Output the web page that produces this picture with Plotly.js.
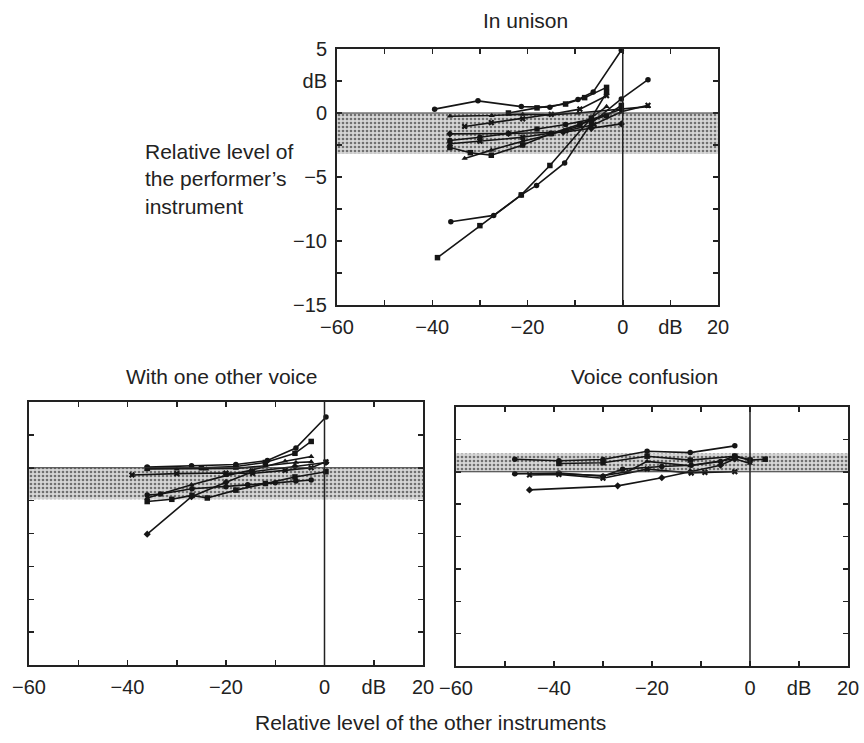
<!DOCTYPE html>
<html>
<head>
<meta charset="utf-8">
<script src="https://cdn.plot.ly/plotly-3.0.1.min.js"></script>
<style>html,body{margin:0;padding:0;background:#fff;}#chart{width:864px;height:743px;}</style>
</head>
<body>
<div id="chart"></div>
<script>
// ---------- data ----------
const panelTitles = ["In unison", "With one other voice", "Voice confusion"];
const xAxisTitle = "Relative level of the other instruments";
const yAxisTitleLines = ["Relative level of", "the performer\u2019s", "instrument"];

const xTickVals = [-60, -50, -40, -30, -20, -10, 0, 10, 20];
const xTickText = ["\u221260", "", "\u221240", "", "\u221220", "", "0", "dB", "20"];
const yTickVals = [-15, -12.5, -10, -7.5, -5, -2.5, 0, 2.5, 5];
const yTickTextTop = ["\u221215", "", "\u221210", "", "\u22125", "", "0", "dB", "5"];
const yTickTextBlank = ["", "", "", "", "", "", "", "", ""];

// shaded reference bands [low, high] in dB
const bandUnison = [-3.2, 0];
const bandOneVoice = [-2.4, 0];
const bandConfusion = [0, 1.4];

// In unison
const unisonX = [
  [-39.5, -30.4, -21.3, -15.3, -9.4, -6.2, -0.3],
  [-24, -18, -12, -8, -3.4],
  [-36.3, -27.5, -21, -15.3, -9.4, -0.3, 5.3],
  [-33.2, -27.6, -21, -15, -9, -3.4],
  [-36.3, -24, -12.5, -6.6, -0.3],
  [-36.3, -30, -24, -18, -12, -6.6, -0.3],
  [-36.3, -32, -27.6, -21, -15, -9, -3.4, -0.3],
  [-33.2, -27.6, -21, -15.3, -9, -3.4],
  [-36.1, -27.1, -21.3, -18.1, -12.2, -6.6, -0.3, 5.3],
  [-38.9, -30, -21.3, -15.3, -6.6, -3.4],
  [-36.3, -30, -21, -12, -6, -0.3, 5.3]
];
const unisonY = [
  [0.3, 0.95, 0.5, 0.45, 1.05, 1.65, 4.9],
  [0.0, 0.4, 0.7, 1.2, 2.0],
  [-0.25, -0.2, -0.1, -0.15, 0.0, 0.3, 0.5],
  [-1.05, -0.75, -0.45, -0.1, 0.3, 1.35],
  [-1.63, -1.6, -1.5, -1.2, -0.85],
  [-2.15, -1.9, -1.6, -1.25, -0.9, -0.5, 0.3],
  [-2.7, -3.1, -3.3, -2.5, -1.6, -0.9, -0.2, 0.6],
  [-3.55, -2.9, -2.2, -1.7, -1.0, 0.5],
  [-8.5, -8.0, -6.4, -5.66, -3.9, -0.8, 1.1, 2.6],
  [-11.3, -8.8, -6.4, -4.1, -0.4, 1.6],
  [-2.4, -2.2, -1.9, -1.4, -0.9, 0.1, 0.6]
];

// With one other voice
const oneVoiceX = [
  [-36, -27, -18, -11.6, -5.8, 0.3],
  [-36, -25, -18, -12, -6, -2.7],
  [-36, -30, -24, -18, -12, -5.8, -2.7],
  [-39.1, -30, -20, -14.6, -8, -2.7, 0.3],
  [-36, -27, -20, -14.6, -6, 0.3],
  [-36, -33.3, -26.9, -20, -15.6, -10, -5.8, -2.7],
  [-36, -31, -26.9, -23.8, -18, -12, -6, 0.3],
  [-36, -27, -20, -15, -8, -2.7]
];
const oneVoiceY = [
  [0.05, 0.15, 0.25, 0.55, 1.5, 3.86],
  [-0.05, 0.0, 0.1, 0.4, 1.1, 2.0],
  [-0.1, -0.1, -0.1, -0.05, 0.15, 0.4, 0.45],
  [-0.55, -0.45, -0.4, -0.43, -0.2, 0.0, 0.45],
  [-5.05, -2.2, -1.1, -0.3, 0.1, 0.4],
  [-2.07, -2.0, -1.6, -1.45, -1.3, -1.15, -1.0, -0.93],
  [-2.57, -2.4, -2.1, -2.3, -1.7, -1.2, -0.7, -0.3],
  [-2.3, -1.3, -0.6, -0.2, 0.5, 0.85]
];

// Voice confusion
const confusionX = [
  [-48, -39, -30, -21, -12.2, -3.1],
  [-39, -30, -21, -12.2, -3.1, 0, 3.1],
  [-48, -39, -30, -25, -21, -12.2, -3.1, 0],
  [-45, -39, -30, -21, -12, -9.2, -3.1],
  [-45, -27, -18, -12.2, -6, -3.1],
  [-48, -39, -30, -26, -18, -12, -6, -3.1, 0]
];
const confusionY = [
  [0.97, 0.85, 0.95, 1.58, 1.48, 2.0],
  [0.64, 0.7, 1.2, 0.9, 1.2, 0.9, 0.97],
  [-0.13, -0.15, -0.3, 0.0, 0.8, 0.46, 1.0, 0.64],
  [-0.25, -0.2, -0.5, 0.2, -0.1, -0.05, 0.0],
  [-1.4, -1.09, -0.46, 0.0, 0.5, 1.0],
  [-0.15, -0.1, -0.35, 0.2, 0.4, 0.5, 0.8, 1.22, 0.9]
];

// ---------- build ----------
const W = 864, H = 743;
const symbols = ["circle", "square", "triangle-up", "x", "diamond", "circle", "square", "triangle-up", "circle", "square", "x"];
const traces = [];

function band(b, xa, ya) {
  traces.push({
    x: [-60, 20, 20, -60, -60], y: [b[0], b[0], b[1], b[1], b[0]],
    xaxis: xa, yaxis: ya, mode: "lines", fill: "toself",
    fillcolor: "#cfcfcf",
    fillpattern: {shape: ".", bgcolor: "#d6d6d6", fgcolor: "#707070", size: 4, solidity: 0.35},
    line: {width: 0}, hoverinfo: "skip"
  });
}
function series(xs, ys, xa, ya) {
  xs.forEach((x, i) => {
    traces.push({
      x: x, y: ys[i], xaxis: xa, yaxis: ya, mode: "lines+markers",
      line: {color: "#151515", width: 1.6},
      marker: {color: "#151515", size: 5.5, symbol: symbols[i % symbols.length]},
      hoverinfo: "x+y"
    });
  });
}
band(bandUnison, "x", "y");
band(bandOneVoice, "x2", "y2");
band(bandConfusion, "x3", "y3");
series(unisonX, unisonY, "x", "y");
series(oneVoiceX, oneVoiceY, "x2", "y2");
series(confusionX, confusionY, "x3", "y3");

const tickFont = {family: "Liberation Sans, Arial, sans-serif", size: 20, color: "#222"};
function xax(domPx, anchor) {
  return {
    domain: [domPx[0] / W, domPx[1] / W], anchor: anchor, range: [-60, 20],
    tickvals: xTickVals, ticktext: xTickText, ticks: "inside", ticklen: 5, tickwidth: 1.5,
    tickcolor: "#222", mirror: "ticks", showline: true, linewidth: 2, linecolor: "#222",
    showgrid: false, zeroline: false, tickfont: tickFont, ticklabelstandoff: 3, fixedrange: true
  };
}
function yax(domPx, anchor, txt) {
  return {
    domain: [1 - domPx[1] / H, 1 - domPx[0] / H], anchor: anchor, range: [-15, 5],
    tickvals: yTickVals, ticktext: txt, ticks: "inside", ticklen: 5, tickwidth: 1.5,
    tickcolor: "#222", mirror: "ticks", showline: true, linewidth: 2, linecolor: "#222",
    showgrid: false, zeroline: false, tickfont: tickFont, ticklabelstandoff: 4, fixedrange: true
  };
}

const refLine = {color: "#222", width: 1.5};
const shapes = [];
[["x", "y"], ["x2", "y2"], ["x3", "y3"]].forEach(([xa, ya]) => {
  shapes.push({type: "line", xref: xa, yref: ya, x0: 0, x1: 0, y0: -15, y1: 5, line: refLine});
  shapes.push({type: "line", xref: xa, yref: ya, x0: -60, x1: 20, y0: 0, y1: 0, line: {color: "#333", width: 1.2}});
});

const titleFont = {family: "Liberation Sans, Arial, sans-serif", size: 21, color: "#222"};
const annotations = [
  {text: panelTitles[0], x: 525 / W, y: 1 - 20 / H, xref: "paper", yref: "paper", showarrow: false, font: titleFont, xanchor: "center", yanchor: "middle"},
  {text: panelTitles[1], x: 222 / W, y: 1 - 377 / H, xref: "paper", yref: "paper", showarrow: false, font: titleFont, xanchor: "center", yanchor: "middle"},
  {text: panelTitles[2], x: 644 / W, y: 1 - 377 / H, xref: "paper", yref: "paper", showarrow: false, font: titleFont, xanchor: "center", yanchor: "middle"},
  {text: xAxisTitle, x: 430 / W, y: 1 - 722 / H, xref: "paper", yref: "paper", showarrow: false, font: titleFont, xanchor: "center", yanchor: "middle"},
  {text: yAxisTitleLines.join("<br>"), x: 143 / W, y: 1 - 179 / H, xref: "paper", yref: "paper", showarrow: false, font: titleFont, xanchor: "left", yanchor: "middle", align: "left"}
];

const layout = {
  width: W, height: H, margin: {l: 0, r: 0, t: 0, b: 0},
  paper_bgcolor: "#fff", plot_bgcolor: "#fff", showlegend: false,
  xaxis: xax([337, 718], "y"), yaxis: yax([49, 305], "x", yTickTextTop),
  xaxis2: xax([29, 423], "y2"), yaxis2: yax([402, 665], "x2", yTickTextBlank),
  xaxis3: xax([456, 848], "y3"), yaxis3: yax([407, 666], "x3", yTickTextBlank),
  shapes: shapes, annotations: annotations
};

Plotly.newPlot("chart", traces, layout, {displayModeBar: false, staticPlot: true});
</script>
</body>
</html>
